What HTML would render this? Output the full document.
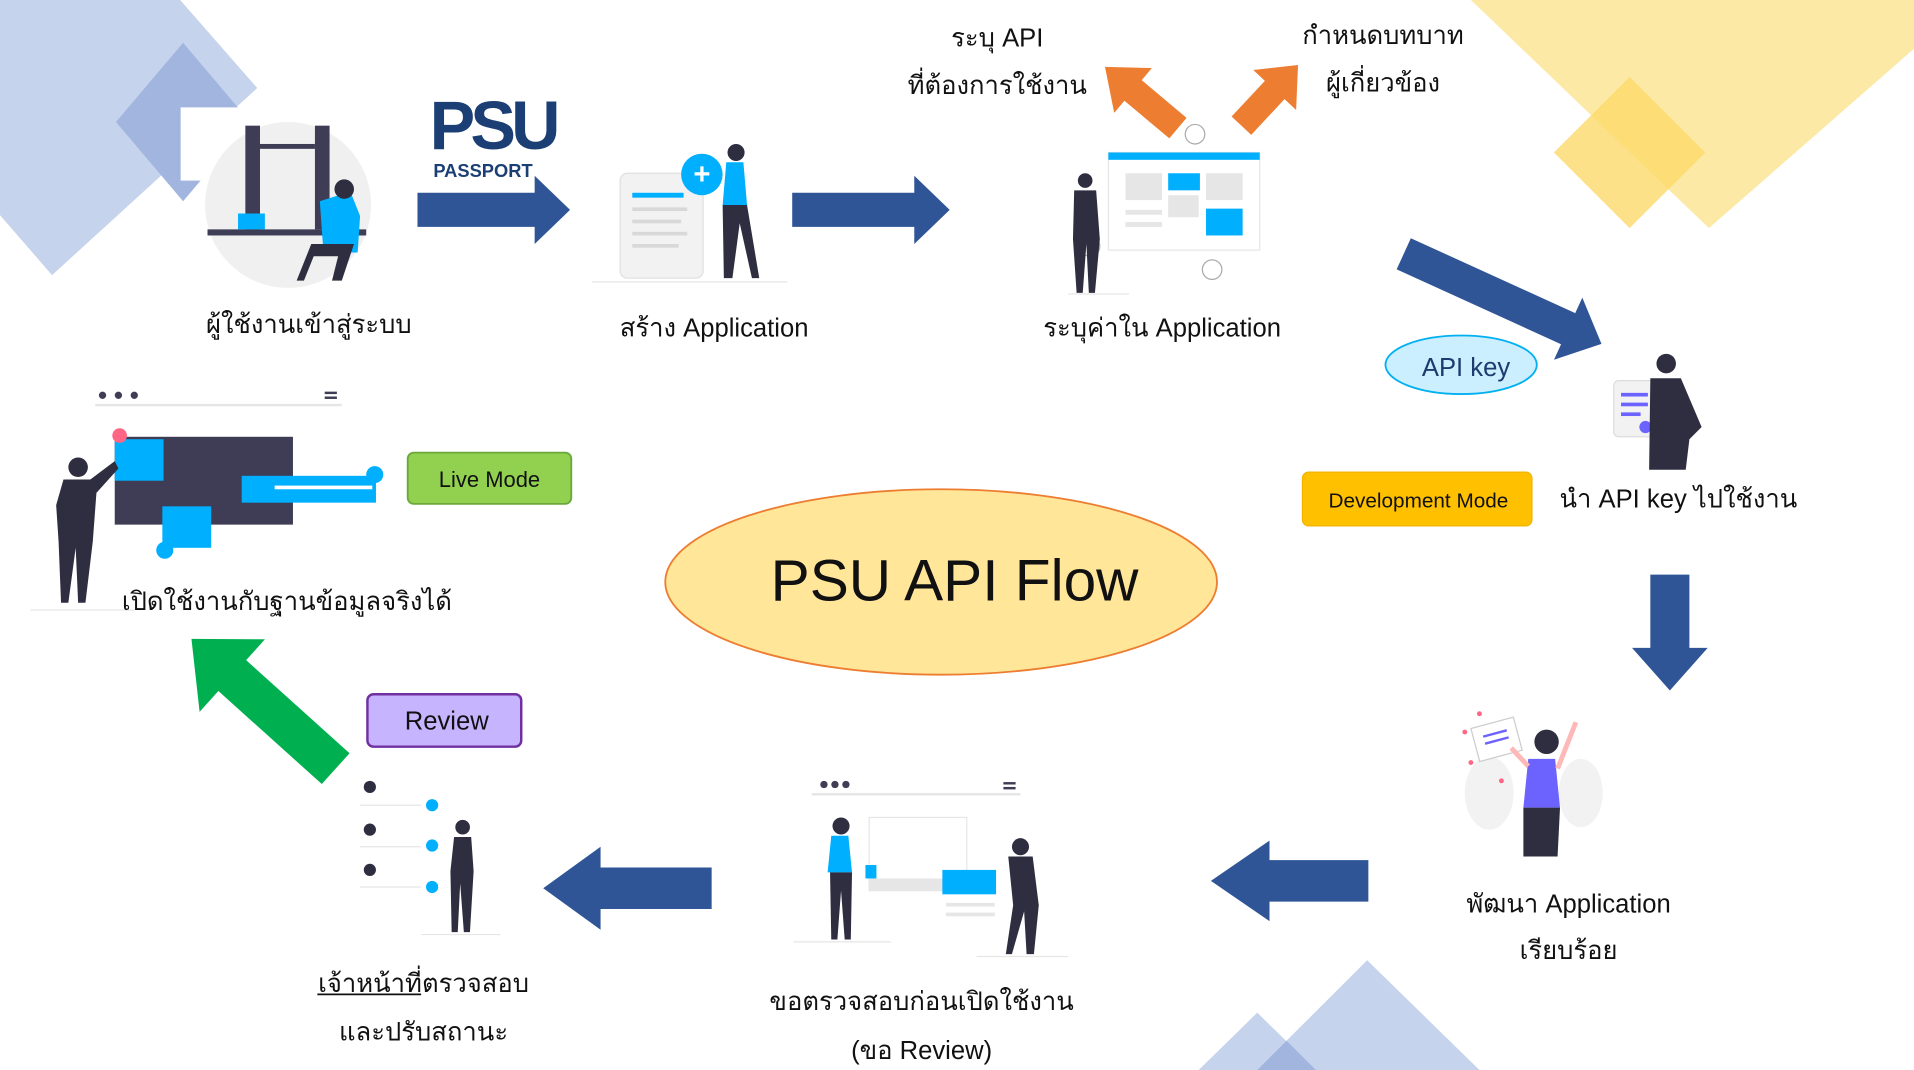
<!DOCTYPE html>
<html><head><meta charset="utf-8"><style>
html,body{margin:0;padding:0;background:#fff;width:1914px;height:1070px;overflow:hidden}
svg{display:block}
text{font-family:"Liberation Sans","Noto Sans CJK SC",sans-serif;fill:#111}
</style></head><body>
<svg width="1914" height="1070" viewBox="0 0 1568 877" preserveAspectRatio="none" xmlns="http://www.w3.org/2000/svg">
<!-- background shapes -->
<polygon points="0,0 180,0 257,88 52,275 0,215" fill="#c5d3ec" transform="scale(0.82)"/>
<polygon points="150,35 205,100 150,165 95,100" fill="#a2b5df"/>
<rect x="148" y="88" width="60" height="60" fill="#fff"/>
<polygon points="1205,0 1568,0 1568,40 1400,187" fill="#fde9a6"/>
<polygon points="1335,63 1397,125 1335,187 1273,125" fill="#fbd96a" opacity="0.8"/>
<polygon points="1120,787 1212,877 1030,877" fill="#c5d3ec"/>
<polygon points="1030,830 1078,877 982,877" fill="#c5d3ec"/>
<polygon points="1054,853 1078,877 1030,877" fill="#a2b5df"/>

<!-- arrows -->
<g fill="#2f5597">
<polygon transform="translate(342,172)" points="0,-14 96,-14 96,-28 125,0 96,28 96,14 0,14"/>
<polygon transform="translate(649,172)" points="0,-14 100,-14 100,-28 129,0 100,28 100,14 0,14"/>
<polygon transform="translate(1150,208) rotate(24.5)" points="0,-14 148,-14 148,-28 178,0 148,28 148,14 0,14"/>
<polygon transform="translate(1368,471) rotate(90)" points="0,-16 60,-16 60,-31 95,0 60,31 60,16 0,16"/>
<polygon transform="translate(1121,722) rotate(180)" points="0,-17 81,-17 81,-33 129,0 81,33 81,17 0,17"/>
<polygon transform="translate(583,728) rotate(180)" points="0,-17 91,-17 91,-34 138,0 91,34 91,17 0,17"/>
</g>
<g fill="#ed7d31">
<polygon transform="translate(965,105) rotate(-140)" points="0,-11 48,-11 48,-24 78,0 48,24 48,11 0,11"/>
<polygon transform="translate(1017,103) rotate(-47)" points="0,-11 40,-11 40,-24 68,0 40,24 40,11 0,11"/>
</g>
<polygon transform="translate(275,630) rotate(-138)" fill="#00b050" points="0,-17 114,-17 114,-40 159,0 114,40 114,17 0,17"/>

<!-- PSU logo -->
<text x="352" y="122" font-size="56" font-weight="bold" fill="#1b3f74" style="fill:#1b3f74;letter-spacing:-4px">PSU</text>
<text x="355" y="145" font-size="15" font-weight="bold" style="fill:#1b3f74">PASSPORT</text>

<!-- illustration 1 -->
<circle cx="236" cy="168" r="68" fill="#f0f0f0"/>
<rect x="201" y="103" width="12" height="85" fill="#3f3d56"/>
<rect x="258" y="103" width="12" height="85" fill="#3f3d56"/>
<rect x="213" y="118" width="45" height="4" fill="#3f3d56"/>
<rect x="170" y="188" width="130" height="5" fill="#3f3d56"/>
<rect x="195" y="175" width="22" height="13" fill="#00b0ff"/>
<path d="M262,165 l25,-8 l8,20 l-2,30 l-28,0z" fill="#00b0ff"/>
<circle cx="282" cy="155" r="8" fill="#2f2e41"/>
<path d="M255,200 l35,0 l-10,30 l-8,0 l5,-20 l-20,0 l-8,20 l-6,0z" fill="#2f2e41"/>

<!-- illustration 2 -->
<rect x="508" y="142" width="68" height="86" rx="6" fill="#f2f2f2" stroke="#e0e0e0"/>
<rect x="518" y="158" width="42" height="4" fill="#00b0ff"/>
<g fill="#d8d8d8"><rect x="518" y="170" width="45" height="3"/><rect x="518" y="180" width="40" height="3"/><rect x="518" y="190" width="45" height="3"/><rect x="518" y="200" width="38" height="3"/></g>
<circle cx="575" cy="143" r="17" fill="#00b0ff"/>
<text x="575" y="151" font-size="24" font-weight="bold" text-anchor="middle" style="fill:#fff">+</text>
<circle cx="603" cy="125" r="7" fill="#2f2e41"/>
<path d="M595,133 l14,0 l3,35 l-20,0z" fill="#00b0ff"/>
<path d="M592,168 l20,0 l10,60 l-6,0 l-10,-45 l-6,45 l-7,0z" fill="#2f2e41"/>
<line x1="485" y1="231" x2="645" y2="231" stroke="#e6e6e6"/>

<!-- illustration 3 -->
<rect x="908" y="125" width="124" height="80" fill="#fff" stroke="#e6e6e6"/>
<rect x="908" y="125" width="124" height="6" fill="#00b0ff"/>
<g fill="#e6e6e6"><rect x="922" y="142" width="30" height="22"/><rect x="988" y="142" width="30" height="22"/><rect x="957" y="160" width="25" height="18"/><rect x="922" y="172" width="30" height="4"/><rect x="922" y="182" width="30" height="4"/></g>
<rect x="957" y="142" width="26" height="14" fill="#00b0ff"/>
<rect x="988" y="171" width="30" height="22" fill="#00b0ff"/>
<circle cx="979" cy="110" r="8" fill="#fff" stroke="#aaa"/><circle cx="993" cy="221" r="8" fill="#fff" stroke="#aaa"/><circle cx="893" cy="202" r="8" fill="#fff" stroke="#aaa"/>
<circle cx="889" cy="148" r="6" fill="#2f2e41"/>
<path d="M880,156 l18,0 l3,40 l-4,44 l-5,0 l-2,-40 l-3,40 l-5,0 l-3,-44z" fill="#2f2e41"/>
<line x1="875" y1="241" x2="925" y2="241" stroke="#e6e6e6"/>

<!-- illustration 4 -->
<rect x="1322" y="312" width="34" height="46" rx="4" fill="#f2f2f2" stroke="#ddd"/>
<g fill="#6c63ff"><rect x="1328" y="322" width="22" height="3"/><rect x="1328" y="330" width="22" height="3"/><rect x="1328" y="338" width="16" height="3"/></g>
<circle cx="1348" cy="350" r="5" fill="#6c63ff"/>
<circle cx="1365" cy="298" r="8" fill="#2f2e41"/>
<path d="M1352,310 l25,0 l17,40 l-10,10 l-3,25 l-30,0z" fill="#2f2e41"/>

<!-- illustration 5 -->
<g fill="#f2f2f2"><ellipse cx="1220" cy="650" rx="20" ry="30"/><ellipse cx="1295" cy="650" rx="18" ry="28"/></g>
<rect x="1208" y="592" width="36" height="28" fill="#fff" stroke="#ccc" transform="rotate(-15 1226 606)"/>
<g fill="#6c63ff"><rect x="1216" y="600" width="20" height="2" transform="rotate(-15 1226 606)"/><rect x="1216" y="606" width="20" height="2" transform="rotate(-15 1226 606)"/></g>
<circle cx="1267" cy="608" r="10" fill="#2f2e41"/>
<path d="M1252,622 l22,0 l4,40 l-30,0z" fill="#6c63ff"/>
<path d="M1248,662 l30,0 l-2,40 l-28,0z" fill="#2f2e41"/>
<path d="M1276,630 l15,-38" stroke="#ffb8b8" stroke-width="4"/>
<path d="M1252,628 l-14,-15" stroke="#ffb8b8" stroke-width="4"/>
<g fill="#ff6584"><circle cx="1200" cy="600" r="2"/><circle cx="1212" cy="585" r="2"/><circle cx="1230" cy="640" r="2"/><circle cx="1205" cy="625" r="2"/></g>

<!-- illustration 6 -->
<circle cx="675" cy="643" r="3" fill="#3f3d56"/><circle cx="684" cy="643" r="3" fill="#3f3d56"/><circle cx="693" cy="643" r="3" fill="#3f3d56"/>
<line x1="665" y1="651" x2="836" y2="651" stroke="#e6e6e6" stroke-width="2"/>
<rect x="822" y="641" width="10" height="2" fill="#3f3d56"/><rect x="822" y="645" width="10" height="2" fill="#3f3d56"/>
<rect x="712" y="670" width="80" height="60" fill="#fff" stroke="#e6e6e6"/>
<rect x="712" y="720" width="80" height="10" fill="#e6e6e6"/>
<rect x="772" y="713" width="44" height="20" fill="#00b0ff"/>
<g fill="#e6e6e6"><rect x="775" y="740" width="40" height="3"/><rect x="775" y="748" width="40" height="3"/></g>
<rect x="709" y="709" width="9" height="11" fill="#00b0ff"/>
<circle cx="689" cy="677" r="7" fill="#2f2e41"/>
<path d="M681,685 l14,0 l3,30 l-20,0z" fill="#00b0ff"/>
<path d="M680,715 l18,0 l-1,55 l-5,0 l-3,-40 l-3,40 l-5,0z" fill="#2f2e41"/>
<circle cx="836" cy="694" r="7" fill="#2f2e41"/>
<path d="M826,702 l20,0 l5,40 l-4,40 l-6,0 l-2,-35 l-10,35 l-5,0 l6,-40z" fill="#2f2e41"/>
<line x1="650" y1="772" x2="730" y2="772" stroke="#e6e6e6"/><line x1="800" y1="784" x2="875" y2="784" stroke="#e6e6e6"/>

<!-- illustration 7 -->
<g fill="#2f2e41"><circle cx="303" cy="645" r="5"/><circle cx="303" cy="680" r="5"/><circle cx="303" cy="713" r="5"/></g>
<g stroke="#e6e6e6"><line x1="295" y1="660" x2="345" y2="660"/><line x1="295" y1="694" x2="345" y2="694"/><line x1="295" y1="727" x2="345" y2="727"/></g>
<g fill="#00b0ff"><circle cx="354" cy="660" r="5"/><circle cx="354" cy="693" r="5"/><circle cx="354" cy="727" r="5"/></g>
<circle cx="379" cy="678" r="6" fill="#2f2e41"/>
<path d="M372,686 l14,0 l2,28 l-3,50 l-5,0 l-3,-40 l-2,40 l-5,0 l-1,-50z" fill="#2f2e41"/>
<line x1="345" y1="766" x2="410" y2="766" stroke="#e6e6e6"/>

<!-- illustration 8 -->
<circle cx="84" cy="324" r="3" fill="#3f3d56"/><circle cx="97" cy="324" r="3" fill="#3f3d56"/><circle cx="110" cy="324" r="3" fill="#3f3d56"/>
<line x1="78" y1="332" x2="280" y2="332" stroke="#e6e6e6" stroke-width="2"/>
<rect x="266" y="321" width="10" height="2" fill="#3f3d56"/><rect x="266" y="325" width="10" height="2" fill="#3f3d56"/>
<rect x="94" y="358" width="146" height="72" fill="#3f3d56"/>
<rect x="94" y="360" width="40" height="34" fill="#00b0ff"/>
<circle cx="98" cy="357" r="6" fill="#ff6584"/>
<rect x="198" y="390" width="110" height="22" fill="#00b0ff"/>
<rect x="225" y="398" width="80" height="3" fill="#fff"/>
<circle cx="307" cy="389" r="7" fill="#00b0ff"/>
<rect x="133" y="415" width="40" height="34" fill="#00b0ff"/>
<circle cx="135" cy="451" r="7" fill="#00b0ff"/>
<circle cx="64" cy="383" r="8" fill="#2f2e41"/>
<path d="M52,393 l22,0 l20,-15 l3,6 l-18,20 l-3,40 l-6,50 l-6,0 l-2,-45 l-6,45 l-6,0 l-2,-50 l-2,-30z" fill="#2f2e41"/>
<line x1="25" y1="500" x2="110" y2="500" stroke="#e6e6e6"/>

<!-- labels -->
<g font-size="21" text-anchor="middle">
<text x="253" y="273">ผู้ใช้งานเข้าสู่ระบบ</text>
<text x="585" y="276">สร้าง Application</text>
<text x="952" y="276">ระบุค่าใน Application</text>
<text x="817" y="38">ระบุ API</text>
<text x="817" y="77">ที่ต้องการใช้งาน</text>
<text x="1133" y="36">กำหนดบทบาท</text>
<text x="1133" y="75">ผู้เกี่ยวข้อง</text>
<text x="1375" y="416">นำ API key ไปใช้งาน</text>
<text x="1285" y="748">พัฒนา Application</text>
<text x="1285" y="786">เรียบร้อย</text>
<text x="755" y="828">ขอตรวจสอบก่อนเปิดใช้งาน</text>
<text x="755" y="868">(ขอ Review)</text>
<text x="347" y="813">เจ้าหน้าที่ตรวจสอบ</text>
<text x="347" y="853">และปรับสถานะ</text>
<text x="235" y="500">เปิดใช้งานกับฐานข้อมูลจริงได้</text>
</g>
<line x1="260" y1="815" x2="345" y2="815" stroke="#111" stroke-width="1.5"/>

<ellipse cx="1197" cy="299" rx="62" ry="24" fill="#ccefff" stroke="#00b0f0" stroke-width="1.5"/>
<text x="1201" y="308" font-size="21" text-anchor="middle" style="fill:#1f3a6e">API key</text>

<rect x="1067" y="387" width="188" height="44" rx="5" fill="#ffc000" stroke="#f0b400"/>
<text x="1162" y="416" font-size="17" text-anchor="middle">Development Mode</text>

<rect x="334" y="371" width="134" height="42" rx="5" fill="#92d050" stroke="#6aa83a" stroke-width="1.5"/>
<text x="401" y="399" font-size="18" text-anchor="middle">Live Mode</text>

<rect x="301" y="569" width="126" height="43" rx="5" fill="#c6b4ff" stroke="#7030a0" stroke-width="2"/>
<text x="366" y="598" font-size="21" text-anchor="middle">Review</text>

<ellipse cx="771" cy="477" rx="226" ry="76" fill="#ffe699" stroke="#ed7d31" stroke-width="1.5"/>
<text x="782" y="492" font-size="48" text-anchor="middle">PSU API Flow</text>
</svg>
</body></html>
